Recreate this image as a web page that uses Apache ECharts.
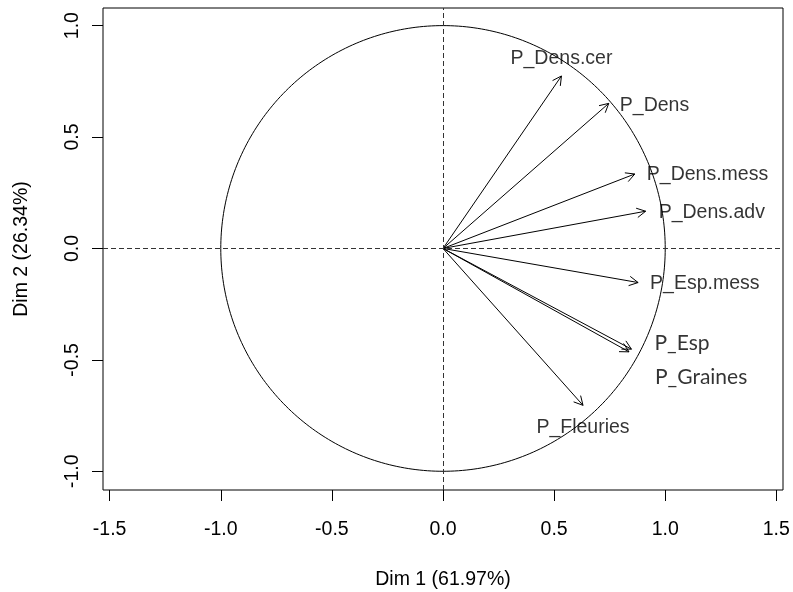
<!DOCTYPE html>
<html>
<head>
<meta charset="utf-8">
<script src="https://cdn.jsdelivr.net/npm/echarts@6/dist/echarts.min.js"></script>
<style>html,body{margin:0;padding:0;background:#fff}#chart{width:793px;height:592px}</style>
</head>
<body>
<div id="chart"></div>
<script>
// ---- data ----
const varNames = ['P_Dens.cer','P_Dens','P_Dens.mess','P_Dens.adv','P_Esp.mess','P_Esp','P_Graines','P_Fleuries'];
const dim1 = [0.533, 0.746, 0.863, 0.912, 0.878, 0.848, 0.837, 0.630];
const dim2 = [0.774, 0.651, 0.334, 0.167, -0.153, -0.452, -0.464, -0.704];
const xTicks = [-1.5, -1.0, -0.5, 0.0, 0.5, 1.0, 1.5];
const yTicks = [-1.0, -0.5, 0.0, 0.5, 1.0];
const xTitle = 'Dim 1 (61.97%)';
const yTitle = 'Dim 2 (26.34%)';

// ---- label placement styles (pixel offsets from arrow tips) ----
const labelStyle = {
  'P_Dens.cer': {align:'center', off:[0,-17], font:'Liberation Sans', size:19.5},
  'P_Dens':     {align:'left', off:[11,2], font:'Liberation Sans', size:19.5},
  'P_Dens.mess':{align:'left', off:[12,1], font:'Liberation Sans', size:19.5},
  'P_Dens.adv': {align:'left', off:[13,1], font:'Liberation Sans', size:19.5},
  'P_Esp.mess': {align:'left', off:[12,1], font:'Liberation Sans', size:19.5},
  'P_Esp':      {align:'left', off:[23,-6], font:'Lato', size:21},
  'P_Graines':  {align:'left', off:[26,25], font:'Lato', size:21},
  'P_Fleuries': {align:'center', off:[0,22], font:'Liberation Sans', size:19.5}
};

// unit circle (reference shape of the correlation circle)
const circle = [];
for (let i = 0; i <= 360; i++) {
  const a = i * Math.PI / 180;
  circle.push([Math.cos(a), Math.sin(a)]);
}

const arrows = varNames.map((n, i) => [dim1[i], dim2[i]]);
const labelData = varNames.map((n, i) => {
  const s = labelStyle[n];
  return {
    value: [dim1[i], dim2[i]],
    name: n,
    label: {show:true, formatter:n, position:'inside', align:s.align, verticalAlign:'middle',
            offset:s.off, fontFamily:s.font, fontSize:s.size, color:'#000'}
  };
});

const FONT = 'Liberation Sans';
const chart = echarts.init(document.getElementById('chart'), null, {renderer:'canvas'});
chart.setOption({
  animation: false,
  backgroundColor: '#fff',
  grid: {left:103, right:10, top:8, bottom:102, show:true, borderColor:'#000', borderWidth:1,
         backgroundColor:'transparent', containLabel:false, outerBoundsMode:'none'},
  xAxis: {
    type:'value', min:-1.53, max:1.53,
    name: xTitle, nameLocation:'middle', nameGap:80,
    nameTextStyle:{fontFamily:FONT, fontSize:19.5, color:'#000'},
    splitLine:{show:false},
    axisLine:{show:false, onZero:false},
    axisTick:{show:true, customValues:xTicks, length:11, lineStyle:{color:'#000', width:1}},
    axisLabel:{customValues:xTicks, formatter:v => Number(v).toFixed(1), fontFamily:FONT, fontSize:19.5, color:'#000', margin:30}
  },
  yAxis: {
    type:'value', min:-1.084, max:1.079,
    name: yTitle, nameLocation:'middle', nameGap:71, nameRotate:90,
    nameTextStyle:{fontFamily:FONT, fontSize:19.5, color:'#000'},
    splitLine:{show:false},
    axisLine:{show:false, onZero:false},
    axisTick:{show:true, customValues:yTicks, length:11, lineStyle:{color:'#000', width:1}},
    axisLabel:{customValues:yTicks, rotate:90, formatter:v => Number(v).toFixed(1), fontFamily:FONT, fontSize:19.5, color:'#000', margin:20}
  },
  series: [
    {
      type:'line', data:circle, showSymbol:false, silent:true, smooth:false,
      lineStyle:{color:'#000', width:1},
      markLine:{
        silent:true, symbol:'none', label:{show:false},
        lineStyle:{color:'#333', width:1, type:[5,3]},
        data:[{xAxis:0},{yAxis:0}]
      }
    },
    {
      type:'custom', data:arrows, silent:true,
      renderItem:function(params, api){
        const p0 = api.coord([0,0]);
        const p1 = api.coord([api.value(0), api.value(1)]);
        const ang = Math.atan2(p1[1]-p0[1], p1[0]-p0[0]);
        const L = 10, spread = 28 * Math.PI/180;
        const w1 = [p1[0] - L*Math.cos(ang - spread), p1[1] - L*Math.sin(ang - spread)];
        const w2 = [p1[0] - L*Math.cos(ang + spread), p1[1] - L*Math.sin(ang + spread)];
        const st = {stroke:'#000', lineWidth:1, fill:null};
        return {type:'group', children:[
          {type:'line', shape:{x1:p0[0], y1:p0[1], x2:p1[0], y2:p1[1]}, style:st},
          {type:'polyline', shape:{points:[w1, p1, w2]}, style:st}
        ]};
      }
    },
    {
      type:'scatter', data:labelData, symbolSize:0, silent:true, z:5
    }
  ]
});
</script>
</body>
</html>
